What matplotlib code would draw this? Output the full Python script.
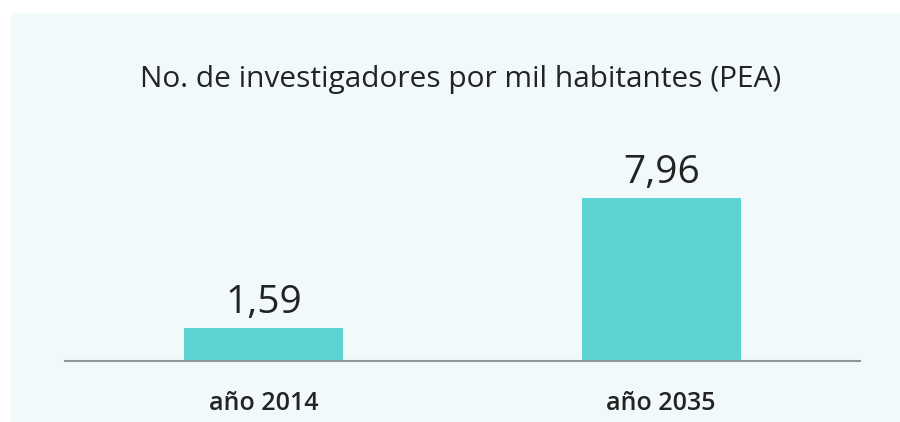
import matplotlib.pyplot as plt
from matplotlib.patches import Rectangle

# researchers per thousand (economically active population)
years = ["año 2014", "año 2035"]
values = [1.59, 7.96]
value_labels = ["1,59", "7,96"]

bg = "#f1f9fb"
bar_color = "#5dd4d3"
text_color = "#232323"
font = "Open Sans"

fig = plt.figure(figsize=(9, 4.22), dpi=100)
fig.patch.set_facecolor("white")
# light panel behind the chart
fig.patches.append(Rectangle((11 / 900, 0), 1, 1 - 13 / 422, transform=fig.transFigure,
                             facecolor=bg, edgecolor="none", zorder=-5))

ax = fig.add_axes([65 / 900, (422 - 361) / 422, 795 / 900, 205 / 422])
ax.set_facecolor("none")

x = list(range(len(years)))
ax.bar(x, values, width=0.40, color=bar_color, zorder=2)
ax.set_xlim(-0.5, 1.5)
ax.set_ylim(0, 10)

px = 72 / fig.dpi  # points per pixel
for xi, v, lab in zip(x, values, value_labels):
    ax.annotate(lab, (xi, v), xytext=(0, 15 * px), textcoords="offset points",
                ha="center", va="baseline", fontsize=28, family=font,
                fontweight="medium", color=text_color)

# category labels under the baseline
for xi, yr in zip(x, years):
    ax.annotate(yr, (xi, 0), xytext=(0, -49 * px), textcoords="offset points",
                ha="center", va="baseline", fontsize=18, family=font,
                fontweight="semibold", color=text_color)

for side in ["top", "right", "left"]:
    ax.spines[side].set_visible(False)
ax.spines["bottom"].set_color("#8c9898")
ax.spines["bottom"].set_linewidth(1.5)
ax.set_xticks([])
ax.set_yticks([])

fig.text(461 / 900, 1 - 87 / 422, "No. de investigadores por mil habitantes (PEA)",
         ha="center", va="baseline", fontsize=21.5, family=font,
         fontweight="medium", color=text_color)

fig.savefig("out.png", dpi=100)
